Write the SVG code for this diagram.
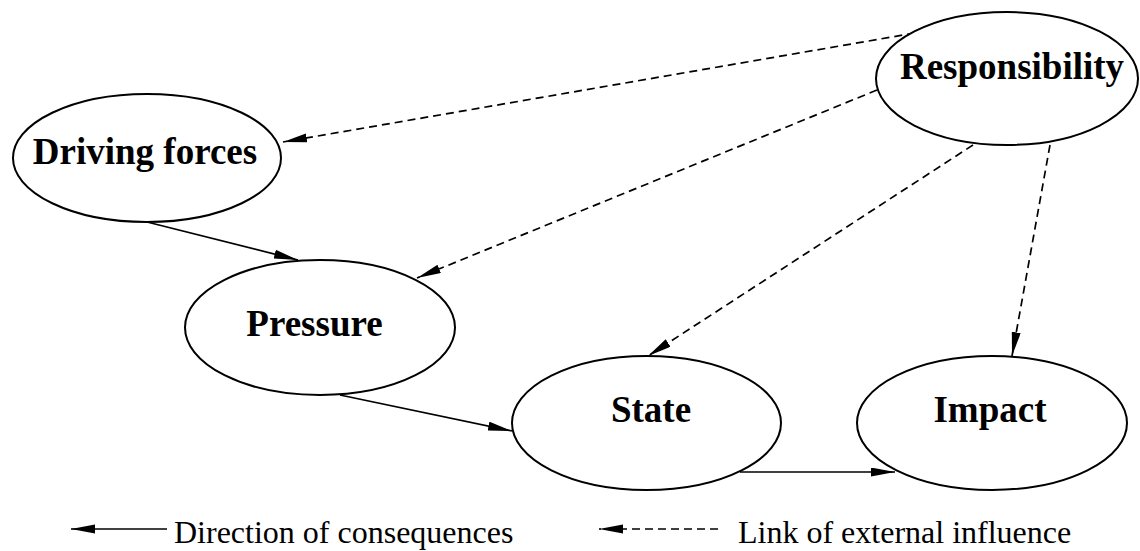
<svg xmlns="http://www.w3.org/2000/svg" width="1140" height="551" viewBox="0 0 1140 551">
<style>
.node ellipse{fill:#fff;stroke:#000;stroke-width:2}
.lbl{font-family:"Liberation Serif","Times New Roman",serif;font-weight:bold;font-size:37px;text-anchor:middle;fill:#000}
.leg{font-family:"Liberation Serif","Times New Roman",serif;font-size:32px;fill:#000}
.solid{stroke:#000;stroke-width:1.7;fill:none;marker-end:url(#ah)}
.dash{stroke:#000;stroke-width:1.7;fill:none;stroke-dasharray:8 5;marker-end:url(#ah)}
</style>
<defs>
<marker id="ah" markerUnits="userSpaceOnUse" markerWidth="26" markerHeight="10" refX="24" refY="4.5" orient="auto" viewBox="0 0 26 10">
<path d="M0,0 L24,4.5 L0,9 z" fill="#000" stroke="none"/>
</marker>
</defs>
<rect width="1140" height="551" fill="#fff"/>
<g id="connectors">
<line class="solid" x1="147" y1="222" x2="298" y2="260"/>
<line class="solid" x1="340" y1="395" x2="512" y2="431"/>
<line class="solid" x1="740" y1="472" x2="895" y2="472"/>
<line class="dash" x1="915" y1="33" x2="283" y2="142"/>
<line class="dash" x1="877" y1="90" x2="417" y2="278"/>
<line class="dash" x1="973" y1="145" x2="648" y2="356"/>
<line class="dash" x1="1050" y1="145" x2="1012" y2="356"/>
</g>
<g id="driving-forces" class="node">
<ellipse cx="147" cy="158" rx="134" ry="64"/>
<text class="lbl" x="145" y="164">Driving forces</text>
</g>
<g id="responsibility" class="node">
<ellipse cx="1007" cy="78.5" rx="131" ry="66.5"/>
<text class="lbl" x="1012" y="79">Responsibility</text>
</g>
<g id="pressure" class="node">
<ellipse cx="320" cy="327.5" rx="135" ry="67.5"/>
<text class="lbl" x="314.5" y="336">Pressure</text>
</g>
<g id="state" class="node">
<ellipse cx="646.5" cy="423" rx="134.5" ry="67"/>
<text class="lbl" x="651" y="422">State</text>
</g>
<g id="impact" class="node">
<ellipse cx="992" cy="423" rx="135" ry="67"/>
<text class="lbl" x="990" y="422">Impact</text>
</g>
<g id="legend">
<line class="solid" x1="167" y1="529" x2="71" y2="529"/>
<text class="leg" x="174" y="543">Direction of consequences</text>
<line class="dash" x1="718" y1="529" x2="599" y2="529"/>
<text class="leg" x="738" y="543">Link of external influence</text>
</g>
</svg>
